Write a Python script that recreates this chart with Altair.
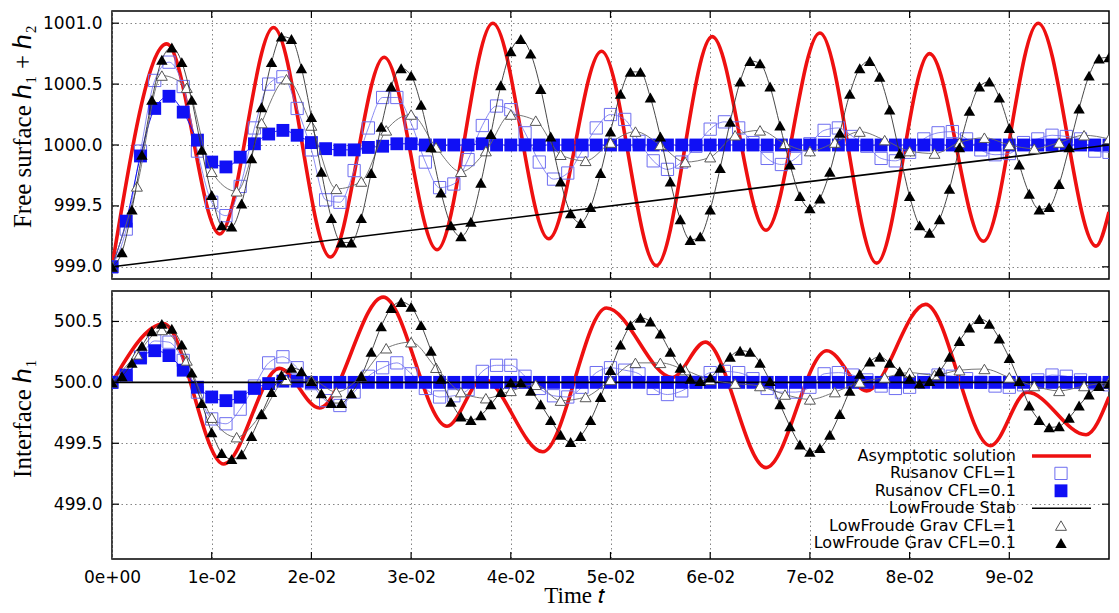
import altair as alt
import pandas as pd

# ---------------- data ----------------
X_TICKS = [0.0, 0.01, 0.02, 0.03, 0.04, 0.05, 0.06, 0.07, 0.08, 0.09]
TOP_Y_TICKS = [999.0, 999.5, 1000.0, 1000.5, 1001.0]
BOT_Y_TICKS = [499.0, 499.5, 500.0, 500.5]

# sample times of the marker series
T_TRI = [round(0.001 * k, 4) for k in range(101)]        # LowFroude Grav CFL=0.1
T_SQ = [round(k * 0.1 / 70, 6) for k in range(71)]        # Rusanov (both CFL)
T_OTRI = [round(0.0025 * k, 5) for k in range(41)]        # LowFroude Grav CFL=1

# Asymptotic solution: turning points
RED_TOP_T = [0.0, 0.0055, 0.0108, 0.0162, 0.0219, 0.0273, 0.0326, 0.0382, 0.0438, 0.0491,
             0.0546, 0.0602, 0.0656, 0.0710, 0.0767, 0.0820, 0.0874, 0.0929, 0.0987, 0.1]
RED_TOP_V = [999.0, 1000.83, 999.27, 1000.965, 999.08, 1000.72, 999.14, 1001.0, 999.23, 1000.77,
             999.01, 1000.89, 999.30, 1000.92, 999.03, 1000.75, 999.21, 1001.0, 999.17, 999.45]
RED_BOT_T = [0.0, 0.0052, 0.0112, 0.0168, 0.0208, 0.0272, 0.0336, 0.0372, 0.0432, 0.0496,
             0.0562, 0.0595, 0.0656, 0.0717, 0.0757, 0.0816, 0.0881, 0.0918, 0.0977, 0.1]
RED_BOT_V = [500.0, 500.48, 499.33, 500.115, 499.79, 500.70, 499.64, 500.03, 499.43, 500.61,
             500.04, 500.33, 499.30, 500.26, 499.93, 500.64, 499.48, 499.92, 499.57, 499.88]

# LowFroude Stab
STAB_TOP_T = [0.0, 0.1]
STAB_TOP_V = [999.0, 1000.0]
STAB_BOT_T = [0.0, 0.1]
STAB_BOT_V = [500.0, 500.0]

# Rusanov CFL=1 (open squares)
RUS1_TOP = [999.0, 999.31, 999.95, 1000.53, 1000.68, 1000.48, 999.95, 999.53, 999.42, 999.66,
            1000.14, 1000.50, 1000.56, 1000.30, 999.96, 999.55, 999.53, 999.79, 1000.14, 1000.39,
            1000.39, 1000.18, 999.86, 999.65, 999.68, 999.88, 1000.16, 1000.32, 1000.29, 1000.10,
            999.86, 999.72, 999.77, 999.95, 1000.14, 1000.25, 1000.21, 1000.03, 999.87, 999.80,
            999.86, 999.99, 1000.13, 1000.19, 1000.14, 1000.02, 999.89, 999.84, 999.89, 1000.01,
            1000.12, 1000.14, 1000.07, 999.99, 999.89, 999.87, 999.94, 1000.05, 1000.10, 1000.11,
            1000.05, 999.96, 999.92, 999.93, 1000.02, 1000.05, 1000.08, 1000.07, 1000.05, 999.95,
            999.94]
RUS1_BOT = [500.0, 500.05, 500.21, 500.34, 500.33, 500.18, 499.92, 499.70, 499.66, 499.78,
            499.97, 500.16, 500.21, 500.12, 499.99, 499.85, 499.81, 499.92, 500.05, 500.12,
            500.16, 500.07, 499.95, 499.88, 499.89, 499.94, 500.09, 500.14, 500.14, 500.05,
            499.95, 499.89, 499.88, 499.96, 500.08, 500.12, 500.10, 500.07, 499.95, 499.90,
            499.93, 500.0, 500.08, 500.09, 500.08, 500.03, 499.95, 499.92, 499.92, 499.96,
            500.07, 500.08, 500.06, 500.02, 499.97, 499.95, 499.96, 500.02, 500.06, 500.05,
            500.03, 500.0, 499.97, 499.96, 499.98, 500.02, 500.06, 500.05, 500.02, 499.99,
            499.98]

# Rusanov CFL=0.1 (filled squares)
RUS01_TOP = [999.0, 999.375, 999.91, 1000.30, 1000.40, 1000.27, 1000.04, 999.86, 999.82, 999.90,
             1000.01, 1000.09, 1000.12, 1000.08, 1000.02, 999.97, 999.96, 999.96, 999.98, 999.99,
             1000.01, 1000.01, 1000.0, 1000.0, 1000.0, 1000.0, 1000.01, 1000.0, 1000.0, 1000.0,
             1000.0, 1000.0, 1000.0, 1000.0, 1000.0, 1000.0, 1000.0, 1000.0, 1000.0, 1000.0,
             1000.0, 1000.0, 1000.0, 1000.0, 1000.0, 1000.0, 1000.0, 1000.0, 1000.0, 1000.0,
             1000.0, 1000.0, 1000.0, 1000.0, 1000.0, 1000.0, 1000.0, 1000.0, 1000.0, 1000.0,
             1000.0, 1000.0, 1000.0, 1000.0, 1000.0, 1000.0, 1000.0, 1000.0, 1000.0, 1000.0,
             1000.0]
RUS01_BOT = [500.0, 500.06, 500.20, 500.26, 500.22, 500.10, 499.96, 499.88, 499.85, 499.88,
             499.95, 499.99, 500.01, 500.01, 500.0, 500.0, 500.0, 500.0, 500.0, 500.0,
             500.0, 500.0, 500.0, 500.0, 500.0, 500.0, 500.0, 500.0, 500.0, 500.0,
             500.0, 500.0, 500.0, 500.0, 500.0, 500.0, 500.0, 500.0, 500.0, 500.0,
             500.0, 500.0, 500.0, 500.0, 500.0, 500.0, 500.0, 500.0, 500.0, 500.0,
             500.0, 500.0, 500.0, 500.0, 500.0, 500.0, 500.0, 500.0, 500.0, 500.0,
             500.0, 500.0, 500.0, 500.0, 500.0, 500.0, 500.0, 500.0, 500.0, 500.0,
             500.0]

# LowFroude Grav CFL=1 (open triangles)
LFG1_TOP = [999.0, 999.66, 1000.57, 1000.47, 999.78, 999.62, 1000.18, 1000.54, 1000.16, 999.64,
            999.70, 1000.12, 1000.25, 999.98, 999.78, 999.95, 1000.25, 1000.20, 999.92, 999.87,
            1000.02, 1000.11, 1000.0, 999.86, 999.90, 1000.08, 1000.12, 1000.01, 999.95, 1000.02,
            1000.11, 1000.04, 999.95, 999.93, 1000.02, 1000.06, 1000.0, 999.97, 1000.02, 1000.08,
            1000.05]
LFG1_BOT = [500.0, 500.23, 500.43, 500.18, 499.71, 499.55, 499.74, 500.02, 500.02, 499.92,
            500.05, 500.28, 500.33, 500.12, 499.92, 499.87, 499.93, 499.98, 499.85, 499.88,
            500.02, 500.16, 500.16, 500.10, 500.02, 499.99, 499.97, 499.90, 499.86, 499.92,
            500.0, 500.04, 500.08, 500.06, 500.10, 500.11, 500.04, 499.97, 499.93, 499.97,
            500.0]

# LowFroude Grav CFL=0.1 (filled triangles)
LFG01_TOP = [999.0, 999.12, 999.47, 999.92, 1000.37, 1000.70, 1000.80, 1000.68, 1000.37, 999.96,
             999.59, 999.34, 999.33, 999.52, 999.89, 1000.31, 1000.68, 1000.89, 1000.87, 1000.63,
             1000.23, 999.78, 999.40, 999.20, 999.20, 999.40, 999.77, 1000.15, 1000.48, 1000.63,
             1000.57, 1000.33, 999.98, 999.61, 999.34, 999.25, 999.37, 999.69, 1000.09, 1000.49,
             1000.77, 1000.87, 1000.75, 1000.46, 1000.07, 999.70, 999.44, 999.36, 999.49, 999.77,
             1000.11, 1000.42, 1000.60, 1000.60, 1000.39, 1000.07, 999.70, 999.39, 999.22, 999.25,
             999.47, 999.81, 1000.19, 1000.52, 1000.69, 1000.67, 1000.48, 1000.16, 999.84, 999.58,
             999.48, 999.56, 999.78, 1000.10, 1000.42, 1000.63, 1000.69, 1000.56, 1000.29, 999.93,
             999.58, 999.34, 999.28, 999.39, 999.64, 999.98, 1000.28, 1000.48, 1000.52, 1000.39,
             1000.14, 999.84, 999.60, 999.47, 999.49, 999.68, 999.98, 1000.30, 1000.57, 1000.71,
             1000.72]
LFG01_BOT = [500.0, 500.05, 500.16, 500.30, 500.42, 500.48, 500.44, 500.31, 500.08, 499.83,
             499.59, 499.42, 499.37, 499.41, 499.56, 499.74, 499.92, 500.06, 500.12, 500.09,
             500.01, 499.91, 499.83, 499.83, 499.91, 500.05, 500.25, 500.46, 500.61, 500.66,
             500.62, 500.47, 500.26, 500.03, 499.84, 499.72, 499.69, 499.73, 499.82, 499.92,
             500.0, 500.0, 499.93, 499.82, 499.69, 499.57, 499.51, 499.56, 499.69, 499.88,
             500.10, 500.31, 500.47, 500.53, 500.50, 500.40, 500.25, 500.12, 500.03, 500.01,
             500.04, 500.12, 500.21, 500.26, 500.25, 500.16, 500.01, 499.82, 499.64, 499.49,
             499.43, 499.46, 499.57, 499.74, 499.93, 500.07, 500.17, 500.21, 500.16, 500.09,
             500.03, 499.99, 500.01, 500.09, 500.21, 500.34, 500.45, 500.52, 500.48, 500.36,
             500.20, 500.01, 499.81, 499.69, 499.63, 499.64, 499.71, 499.81, 499.90, 499.97,
             499.99]

LEGEND_LABELS = ["Asymptotic solution", "Rusanov CFL=1", "Rusanov CFL=0.1",
                 "LowFroude Stab", "LowFroude Grav CFL=1", "LowFroude Grav CFL=0.1"]

# ---------------- styling ----------------
W, H = 997, 268
RED = "#ee1010"
BLUE = "#1010f5"
LBLUE = "#6e6ef0"
SANS = "DejaVu Sans"
SERIF = "Liberation Serif"


def df(t, v):
    return pd.DataFrame({"t": t, "v": v})


def panel(red_t, red_v, stab_t, stab_v, rus1, rus01, lfg1, lfg01,
          y_dom, y_ticks, y_title, title_y, bottom):
    if bottom:
        xaxis = alt.Axis(values=X_TICKS, grid=True, ticks=False, domain=False,
                         labels=True, labelPadding=10, labelFlush=False,
                         labelExpr="datum.value < 0.001 ? '0e+00' : format(datum.value * 100, '.0f') + 'e-02'",
                         title="Time 𝑡", titleFontSize=23,
                         titleX=462, titleY=43, titleBaseline="alphabetic")
    else:
        xaxis = alt.Axis(values=X_TICKS, grid=True, ticks=False, domain=False,
                         labels=False, title=None)
    yaxis = alt.Axis(values=y_ticks, grid=True, ticks=False, domain=False,
                     format=".1f", labelPadding=10, title=y_title, titleFontSize=25,
                     titleX=-90, titleY=title_y, titleBaseline="middle")
    X = alt.X("t:Q", scale=alt.Scale(domain=[0, 0.1], nice=False, zero=False), axis=xaxis)
    Y = alt.Y("v:Q", scale=alt.Scale(domain=y_dom, nice=False, zero=False), axis=yaxis)

    layers = []
    layers.append(alt.Chart(df(red_t, red_v)).mark_line(
        color=RED, strokeWidth=3.6, interpolate="monotone", clip=True).encode(x=X, y=Y))
    # Rusanov CFL=1
    layers.append(alt.Chart(df(T_SQ, rus1)).mark_line(
        color=LBLUE, strokeWidth=0.8, interpolate="monotone", clip=True).encode(x=X, y=Y))
    layers.append(alt.Chart(df(T_SQ, rus1)).mark_point(
        shape="square", size=150, filled=False, color=LBLUE, strokeWidth=1,
        opacity=1, clip=True).encode(x=X, y=Y))
    # Rusanov CFL=0.1
    layers.append(alt.Chart(df(T_SQ, rus01)).mark_line(
        color=BLUE, strokeWidth=1, interpolate="monotone", clip=True).encode(x=X, y=Y))
    layers.append(alt.Chart(df(T_SQ, rus01)).mark_point(
        shape="square", size=165, filled=True, color=BLUE, opacity=1,
        clip=True).encode(x=X, y=Y))
    # LowFroude Stab
    layers.append(alt.Chart(df(stab_t, stab_v)).mark_line(
        color="black", strokeWidth=1.6, clip=True).encode(x=X, y=Y))
    # LowFroude Grav CFL=1
    layers.append(alt.Chart(df(T_OTRI, lfg1)).mark_line(
        color="#666666", strokeWidth=0.9, interpolate="monotone", clip=True).encode(x=X, y=Y))
    layers.append(alt.Chart(df(T_OTRI, lfg1)).mark_point(
        shape="triangle-up", size=120, filled=True, fill="white", stroke="#555555",
        strokeWidth=1, opacity=1, clip=True).encode(x=X, y=Y))
    # LowFroude Grav CFL=0.1
    layers.append(alt.Chart(df(T_TRI, lfg01)).mark_line(
        color="#333333", strokeWidth=0.9, interpolate="monotone", clip=True).encode(x=X, y=Y))
    layers.append(alt.Chart(df(T_TRI, lfg01)).mark_point(
        shape="triangle-up", size=130, filled=True, color="black", opacity=1,
        clip=True).encode(x=X, y=Y))

    # inward ticks on all four sides
    xt = pd.DataFrame({"t": X_TICKS[1:]})
    yt = pd.DataFrame({"v": y_ticks})
    layers.append(alt.Chart(xt).mark_rule(color="black", strokeWidth=1.2).encode(
        x=X, y=alt.value(H), y2=alt.value(H - 7)))
    layers.append(alt.Chart(xt).mark_rule(color="black", strokeWidth=1.2).encode(
        x=X, y=alt.value(0), y2=alt.value(7)))
    layers.append(alt.Chart(yt).mark_rule(color="black", strokeWidth=1.2).encode(
        y=Y, x=alt.value(0), x2=alt.value(7)))
    layers.append(alt.Chart(yt).mark_rule(color="black", strokeWidth=1.2).encode(
        y=Y, x=alt.value(W - 7), x2=alt.value(W)))

    if bottom:
        lx_text, lx_sym, l_y0, l_dy = 904, 949, 165, 17.4
        for i, lab in enumerate(LEGEND_LABELS):
            yy = l_y0 + i * l_dy
            d = pd.DataFrame({"label": [lab]})
            layers.append(alt.Chart(d).mark_text(
                align="right", baseline="middle", font=SANS, fontSize=16,
                color="black").encode(x=alt.value(lx_text), y=alt.value(yy), text="label:N"))
            if i == 0:
                layers.append(alt.Chart(d).mark_rule(color=RED, strokeWidth=3.6).encode(
                    x=alt.value(920), x2=alt.value(979), y=alt.value(yy)))
            elif i == 1:
                layers.append(alt.Chart(d).mark_point(
                    shape="square", size=150, filled=False, color=LBLUE, strokeWidth=1,
                    opacity=1).encode(x=alt.value(lx_sym), y=alt.value(yy)))
            elif i == 2:
                layers.append(alt.Chart(d).mark_point(
                    shape="square", size=165, filled=True, color=BLUE,
                    opacity=1).encode(x=alt.value(lx_sym), y=alt.value(yy)))
            elif i == 3:
                layers.append(alt.Chart(d).mark_rule(color="black", strokeWidth=1.6).encode(
                    x=alt.value(920), x2=alt.value(979), y=alt.value(yy)))
            elif i == 4:
                layers.append(alt.Chart(d).mark_point(
                    shape="triangle-up", size=120, filled=True, fill="white",
                    stroke="#555555", strokeWidth=1, opacity=1).encode(
                    x=alt.value(lx_sym), y=alt.value(yy)))
            else:
                layers.append(alt.Chart(d).mark_point(
                    shape="triangle-up", size=130, filled=True, color="black",
                    opacity=1).encode(x=alt.value(lx_sym), y=alt.value(yy)))

    return alt.layer(*layers).properties(width=W, height=H)


top = panel(RED_TOP_T, RED_TOP_V, STAB_TOP_T, STAB_TOP_V, RUS1_TOP, RUS01_TOP,
            LFG1_TOP, LFG01_TOP, [998.9, 1001.1], TOP_Y_TICKS,
            "Free surface ℎ₁ + ℎ₂", 115, False)
bot = panel(RED_BOT_T, RED_BOT_V, STAB_BOT_T, STAB_BOT_V, RUS1_BOT, RUS01_BOT,
            LFG1_BOT, LFG01_BOT, [498.55, 500.75], BOT_Y_TICKS,
            "Interface ℎ₁", 127, True)

chart = alt.vconcat(top, bot, spacing=8).properties(
    padding={"left": 1, "top": 1, "right": 0, "bottom": 0}
).configure_view(
    stroke="black", strokeWidth=1.5
).configure_axis(
    labelFont=SANS, labelFontSize=17, labelColor="black",
    titleFont=SERIF, titleFontWeight="normal", titleColor="black",
    gridColor="#777777", gridDash=[1.5, 3], gridWidth=0.9, gridOpacity=1
)

chart.save("out.html", embed_options={"renderer": "svg", "actions": False})
